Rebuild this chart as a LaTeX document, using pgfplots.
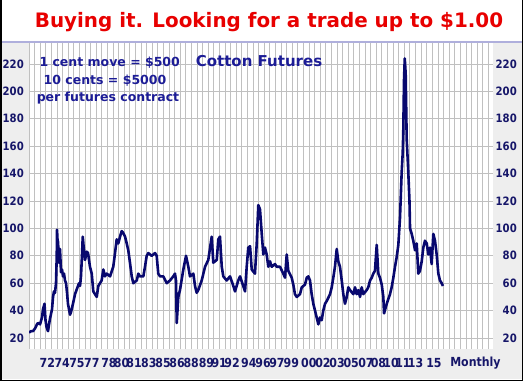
\documentclass[border=0pt]{standalone}
\usepackage{pgfplots}
\pgfplotsset{compat=1.18}
\usepackage{fontspec}
\setmainfont{DejaVu Sans}
\newfontfamily\condfont{DejaVu Sans}[FakeStretch=0.88]
\definecolor{titlered}{RGB}{232,0,0}
\definecolor{annblue}{RGB}{28,28,150}
\definecolor{tickblue}{RGB}{22,22,105}
\definecolor{lineblue}{RGB}{8,8,110}
\definecolor{panelgray}{RGB}{238,238,238}
\definecolor{gridgray}{RGB}{192,192,192}
\definecolor{topline}{RGB}{175,175,220}
\pgfplotstableread{
year value
1970.68 24
1970.90 25
1971.11 25
1971.33 27
1971.54 30
1971.65 31
1971.87 30
1972.08 35
1972.19 41
1972.35 45
1972.46 33
1972.57 28
1972.73 25
1972.84 30
1972.94 34
1973.16 41
1973.27 50
1973.37 54
1973.48 53
1973.59 60
1973.67 80
1973.70 99
1973.75 92
1973.81 90
1973.91 75
1974.02 85
1974.13 68
1974.24 70
1974.34 65
1974.45 67
1974.56 62
1974.67 60
1974.78 53
1974.88 45
1974.99 41
1975.10 37
1975.21 39
1975.42 45
1975.64 52
1975.85 56
1976.07 60
1976.18 58
1976.28 65
1976.39 80
1976.47 94
1976.55 88
1976.72 77
1976.90 83
1977.04 82
1977.25 72
1977.44 67
1977.61 54
1977.98 50
1978.15 58
1978.51 62
1978.69 70
1978.87 65
1979.05 67
1979.41 65
1979.76 72
1979.95 82
1980.13 92
1980.30 89
1980.49 94
1980.67 98
1980.81 97
1981.03 94
1981.21 89
1981.38 84
1981.56 75
1981.75 65
1981.92 60
1982.29 62
1982.46 67
1982.64 65
1983.00 65
1983.18 72
1983.36 80
1983.54 82
1983.90 80
1984.26 82
1984.44 80
1984.61 67
1984.80 65
1985.15 65
1985.52 60
1985.87 62
1986.23 65
1986.41 67
1986.52 62
1986.60 31
1986.77 50
1986.95 55
1987.31 70
1987.60 80
1987.85 72
1988.03 65
1988.39 67
1988.57 58
1988.75 53
1988.92 55
1989.29 62
1989.65 72
1990.00 77
1990.37 94
1990.54 75
1990.91 77
1991.08 92
1991.26 94
1991.45 72
1991.62 65
1991.98 62
1992.34 65
1992.70 58
1992.88 54
1993.23 62
1993.42 65
1993.77 58
1993.96 54
1994.14 72
1994.31 86
1994.50 87
1994.68 70
1995.03 67
1995.22 89
1995.39 117
1995.57 114
1995.76 96
1995.93 81
1996.11 86
1996.29 81
1996.47 72
1996.65 76
1996.83 72
1997.19 74
1997.37 72
1997.73 72
1998.08 67
1998.27 64
1998.45 81
1998.62 69
1998.99 64
1999.16 59
1999.34 52
1999.53 50
1999.88 52
2000.07 57
2000.42 59
2000.61 64
2000.78 65
2000.96 62
2001.14 52
2001.32 45
2001.50 40
2001.68 35
2001.86 30
2002.04 35
2002.22 33
2002.39 40
2002.58 45
2002.76 47
2003.12 52
2003.30 57
2003.47 64
2003.65 72
2003.84 85
2004.01 76
2004.19 72
2004.38 62
2004.55 52
2004.73 45
2004.92 50
2005.09 57
2005.27 55
2005.63 52
2005.81 57
2005.99 52
2006.17 55
2006.35 50
2006.53 57
2006.70 52
2007.07 55
2007.24 57
2007.43 62
2007.61 64
2007.78 67
2007.96 69
2008.15 88
2008.32 67
2008.50 64
2008.69 59
2008.86 50
2008.94 38
2009.23 45
2009.58 52
2009.76 57
2009.94 64
2010.12 72
2010.30 79
2010.48 88
2010.66 108
2010.84 141
2010.95 155
2011.01 170
2011.09 208
2011.17 224
2011.27 213
2011.38 165
2011.52 146
2011.68 120
2011.74 100
2011.92 96
2012.09 91
2012.28 84
2012.46 89
2012.63 67
2012.81 69
2013.00 76
2013.17 86
2013.35 91
2013.54 89
2013.71 81
2013.89 86
2014.07 74
2014.25 96
2014.43 91
2014.61 81
2014.79 67
2014.97 62
2015.15 60
2015.29 58
}\cotton
\begin{document}
\begin{tikzpicture}[x=1pt,y=1pt]
\useasboundingbox (0,0) rectangle (523,-381);
\fill[white] (0,0) rectangle (523,-381);
\fill[panelgray] (0,-42) rectangle (29,-349);
\fill[panelgray] (493,-42) rectangle (523,-349);
\fill[panelgray] (0,-349) rectangle (523,-379);
\begin{axis}[
  at={(29pt,-349pt)}, anchor=south west,
  scale only axis, width=464pt, height=307pt,
  xmin=1970.68, xmax=2020.68, ymin=12, ymax=236,
  axis line style={draw=none},
  ytick={20,40,...,220},
  ymajorgrids,
  xtick={1972.66,1974.26,1975.85,1977.45,1979.30,1980.65,1982.00,1983.59,1985.12,1986.63,1988.16,1989.80,1991.18,1992.56,1994.37,1995.90,1997.40,1998.94,2000.83,2002.36,2003.87,2005.40,2006.99,2008.34,2009.69,2010.98,2012.33,2014.32,2018.79},
  xticklabels={72,74,75,77,78,80,81,83,85,86,88,89,91,92,94,96,97,99,00,02,03,05,07,08,10,11,13,15,Monthly},
  minor xtick={1970.68,1971.2835,...,2020.7},
  xminorgrids,
  major tick length=0pt, minor tick length=0pt,
  grid style={draw=gridgray, line width=0.8pt},
  minor grid style={draw=gridgray, line width=0.8pt},
  /pgf/number format/assume math mode=true,
  yticklabel style={anchor=east, inner sep=0pt, xshift=-5pt, font=\condfont\bfseries\fontsize{11.5}{12}\selectfont, text=tickblue},
  xticklabel style={anchor=center, inner sep=0pt, yshift=-14pt, font=\condfont\bfseries\fontsize{12.5}{13}\selectfont, text=tickblue},
]
\addplot[lineblue, line width=2.6pt, line join=round, no markers] table[x=year, y=value] {\cotton};
\end{axis}
\begin{axis}[
  at={(29pt,-349pt)}, anchor=south west,
  scale only axis, width=464pt, height=307pt,
  xmin=1970.68, xmax=2020.68, ymin=12, ymax=236,
  axis line style={draw=none},
  ytick={20,40,...,220}, xtick=\empty,
  yticklabel pos=right,
  major tick length=0pt,
  /pgf/number format/assume math mode=true,
  yticklabel style={anchor=east, inner sep=0pt, xshift=24pt, font=\condfont\bfseries\fontsize{11.5}{12}\selectfont, text=tickblue},
]
\addplot[draw=none] coordinates {(2000,100)};
\end{axis}
\draw[topline, line width=2pt] (0,-42) -- (523,-42);
\draw[black, line width=1.5pt] (0.75,0) -- (0.75,-380.25) -- (522.25,-380.25) -- (522.25,0);
\node[anchor=base, text=titlered, font=\bfseries\fontsize{19.9}{22}\selectfont, inner sep=0pt] at (269,-27.3) {Buying it. Looking for a trade up to \$1.00};
\node[anchor=base, text=annblue, font=\bfseries\fontsize{12.5}{14}\selectfont, inner sep=0pt] at (109.7,-66) {1 cent move = \$500};
\node[anchor=base, text=annblue, font=\bfseries\fontsize{12.5}{14}\selectfont, inner sep=0pt] at (105,-84.3) {10 cents = \$5000};
\node[anchor=base, text=annblue, font=\bfseries\fontsize{12.5}{14}\selectfont, inner sep=0pt] at (108,-101.7) {per futures contract};
\node[anchor=base, text=annblue, font=\bfseries\fontsize{15}{17}\selectfont, inner sep=0pt] at (259,-66.7) {Cotton Futures};
\end{tikzpicture}
\end{document}
